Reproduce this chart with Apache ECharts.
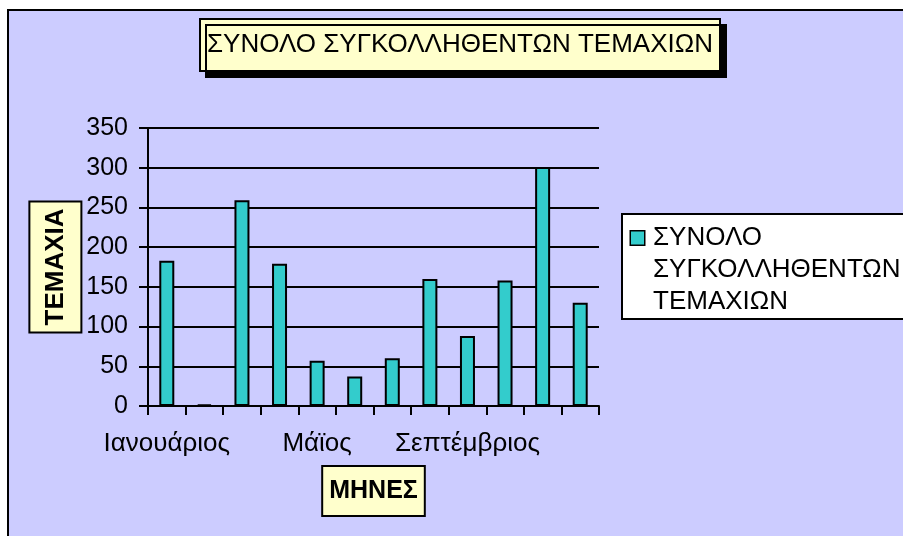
<!DOCTYPE html>
<html>
<head>
<meta charset="utf-8">
<script src="https://cdn.jsdelivr.net/npm/echarts@6/dist/echarts.min.js"></script>
<style>
  html, body { margin: 0; padding: 0; background: #fff; overflow: hidden; }
  #frame { position: absolute; left: 7px; top: 9px; width: 1000px; height: 700px;
           background: #CCCCFF; border-left: 2px solid #000; border-top: 2px solid #000; }
  #chart { position: absolute; left: 0; top: 0; width: 903px; height: 536px; }
</style>
</head>
<body>
<div id="frame"></div>
<div id="chart"></div>
<script>
// Monthly totals
const months = ['Ιανουάριος', 'Φεβρουάριος', 'Μάρτιος', 'Απρίλιος', 'Μάϊος', 'Ιούνιος',
  'Ιούλιος', 'Αύγουστος', 'Σεπτέμβριος', 'Οκτώβριος', 'Νοέμβριος', 'Δεκέμβριος'];
const pieces = [183, 2, 259, 179, 57, 37, 60, 160, 88, 158, 301, 130];
const seriesName = 'ΣΥΝΟΛΟ ΣΥΓΚΟΛΛΗΘΕΝΤΩΝ ΤΕΜΑΧΙΩΝ';
const legendLines = ['ΣΥΝΟΛΟ', 'ΣΥΓΚΟΛΛΗΘΕΝΤΩΝ', 'ΤΕΜΑΧΙΩΝ'];

const FONT = '"Liberation Sans", Arial, sans-serif';
const BAR = '#33CCCC';

const chart = echarts.init(document.getElementById('chart'), null, { renderer: 'canvas' });

chart.setOption({
  backgroundColor: 'transparent',
  animation: false,
  // legend frame: runs off the right edge like in the original
  graphic: [{
    type: 'rect',
    z: 0,
    silent: true,
    shape: { x: 622, y: 214, width: 400, height: 105 },
    style: { fill: '#fff', stroke: '#000', lineWidth: 2 }
  }],
  title: {
    text: seriesName,
    left: 200,
    top: 19,
    padding: [13, 7, 13, 7],
    backgroundColor: '#FFFFCC',
    borderColor: '#000',
    borderWidth: 2,
    shadowColor: '#000',
    shadowBlur: 0,
    shadowOffsetX: 6,
    shadowOffsetY: 6,
    textStyle: { fontFamily: FONT, fontSize: 26, fontWeight: 'normal', color: '#000' }
  },
  legend: {
    left: 621,
    top: 213,
    z: 10,
    orient: 'vertical',
    icon: 'none',
    itemWidth: 0,
    itemHeight: 14,
    selectedMode: false,
    padding: [12, 0, 6, 5],
    data: [seriesName],
    formatter: () => '{sq|}{sp|}{t|' + legendLines[0] + '}\n' +
      legendLines.slice(1).map((l) => '{ind|}{t|' + l + '}').join('\n'),
    textStyle: {
      fontFamily: FONT,
      fontSize: 26,
      color: '#000',
      rich: {
        sq: { width: 13, height: 13, backgroundColor: BAR, borderColor: '#000', borderWidth: 1.5, verticalAlign: 'middle' },
        sp: { width: 9 },
        ind: { width: 22 },
        t: { fontFamily: FONT, fontSize: 26, color: '#000', lineHeight: 31.75, verticalAlign: 'middle' }
      }
    }
  },
  grid: { left: 148, right: 304, top: 128, bottom: 130, containLabel: false },
  xAxis: {
    type: 'category',
    data: months,
    boundaryGap: true,
    name: 'ΜΗΝΕΣ',
    nameLocation: 'middle',
    nameGap: 61,
    nameTextStyle: {
      fontFamily: FONT, fontSize: 25, fontWeight: 'bold', color: '#000',
      backgroundColor: '#FFFFCC', borderColor: '#000', borderWidth: 2,
      padding: [12, 6, 11, 6]
    },
    axisLine: { lineStyle: { color: '#000', width: 2 } },
    axisTick: { show: true, interval: 0, length: 9, lineStyle: { color: '#000', width: 2 } },
    axisLabel: { interval: 3, margin: 25, fontFamily: FONT, fontSize: 26, color: '#000' },
    splitLine: { show: false }
  },
  yAxis: {
    type: 'value',
    min: 0,
    max: 350,
    interval: 50,
    name: 'ΤΕΜΑΧΙΑ',
    nameLocation: 'middle',
    nameRotate: 90,
    nameGap: 67,
    nameTextStyle: {
      fontFamily: FONT, fontSize: 26, fontWeight: 'bold', color: '#000',
      backgroundColor: '#FFFFCC', borderColor: '#000', borderWidth: 2,
      padding: [12, 6, 12, 6]
    },
    axisLine: { show: true, lineStyle: { color: '#000', width: 2 } },
    axisTick: { show: true, length: 9, lineStyle: { color: '#000', width: 2 } },
    axisLabel: { margin: 20, fontFamily: FONT, fontSize: 25, color: '#000' },
    splitLine: { show: true, lineStyle: { color: '#000', width: 2 } }
  },
  series: [{
    name: seriesName,
    type: 'bar',
    data: pieces,
    barWidth: 15,
    itemStyle: { color: BAR, borderColor: '#000', borderWidth: 2 }
  }]
});
</script>
</body>
</html>
